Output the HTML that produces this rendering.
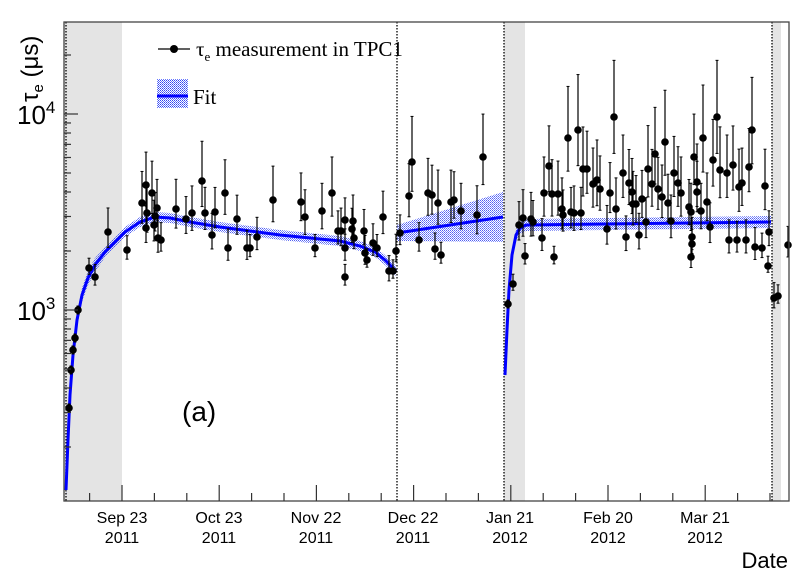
<!DOCTYPE html>
<html><head><meta charset="utf-8"><style>
body{margin:0;background:#fff;}
svg{display:block;}
</style></head><body>
<svg id="s" width="806" height="584" viewBox="0 0 806 584" xmlns="http://www.w3.org/2000/svg">
<defs>
<pattern id="hp" width="2" height="2" patternUnits="userSpaceOnUse">
<rect width="2" height="2" fill="#fff" fill-opacity="0"/>
<rect width="1" height="1" fill="#3344ee"/><rect x="1" y="1" width="1" height="1" fill="#6677ff"/>
</pattern>
</defs>
<rect x="64" y="22" width="58" height="479" fill="#e4e4e4"/>
<rect x="504" y="22" width="21" height="479" fill="#e4e4e4"/>
<rect x="772" y="22" width="9" height="479" fill="#e4e4e4"/>
<g stroke="#000" stroke-width="1.3" stroke-dasharray="1.5,1.5">
<line x1="66" y1="22" x2="66" y2="501"/>
<line x1="397" y1="22" x2="397" y2="501"/>
<line x1="504" y1="22" x2="504" y2="501"/>
<line x1="772" y1="22" x2="772" y2="501"/>
</g>
<g id="fit"></g>
<g id="pts"></g>
<rect x="64" y="22" width="725" height="479" fill="none" stroke="#444" stroke-width="1.3"/>
<g id="ax" stroke="#333" stroke-width="1.2"></g>
<g font-family="Liberation Sans, sans-serif" font-size="16" fill="#000" text-anchor="middle">
<text x="122" y="523">Sep 23</text><text x="122" y="543">2011</text>
<text x="219" y="523">Oct 23</text><text x="219" y="543">2011</text>
<text x="316" y="523">Nov 22</text><text x="316" y="543">2011</text>
<text x="413" y="523">Dec 22</text><text x="413" y="543">2011</text>
<text x="510" y="523">Jan 21</text><text x="510" y="543">2012</text>
<text x="608" y="523">Feb 20</text><text x="608" y="543">2012</text>
<text x="705" y="523">Mar 21</text><text x="705" y="543">2012</text>
</g>
<text x="788" y="568" font-family="Liberation Sans, sans-serif" font-size="22" text-anchor="end">Date</text>
<g font-family="Liberation Sans, sans-serif" font-size="26">
<text x="17" y="124">10<tspan font-size="17" dy="-11">4</tspan></text>
<text x="17" y="320">10<tspan font-size="17" dy="-11">3</tspan></text>
<text x="182" y="421" font-size="28">(a)</text>
</g>
<text transform="translate(38,102) rotate(-90)" font-family="Liberation Sans, sans-serif" font-size="24">τ<tspan font-size="15" dy="5">e</tspan><tspan dy="-5"> (μs)</tspan></text>
<g font-family="Liberation Serif, serif" font-size="21">
<line x1="158" y1="49" x2="190" y2="49" stroke="#000" stroke-width="1.3"/>
<circle cx="174" cy="49" r="4" fill="#000"/>
<text x="196" y="56">τ<tspan font-size="13" dy="5">e</tspan><tspan dy="-5"> measurement in TPC1</tspan></text>
<rect x="157" y="79" width="31" height="29" fill="url(#hp)"/>
<line x1="157" y1="96" x2="188" y2="96" stroke="#0000ff" stroke-width="3"/>
<text x="193" y="104">Fit</text>
</g>
</svg>
<script>
const NS="http://www.w3.org/2000/svg";
function el(p,t,a){const e=document.createElementNS(NS,t);for(const k in a)e.setAttribute(k,a[k]);p.appendChild(e);return e;}
const ax=document.getElementById('ax');
for(let i=-1;i<24;i++){const x=122+i*32.4;if(x<65||x>788)continue;const maj=(i%3===0);el(ax,'line',{x1:x,y1:501,x2:x,y2:501-(maj?16:8)});}
function Y(v){return 310-196*Math.log10(v/1000);}
[100,1000,10000].forEach(d=>{for(let m=1;m<10;m++){const v=d*m;const y=Y(v);if(y<22||y>501)continue;el(ax,'line',{x1:64,y1:y,x2:64+(m===1?14:7),y2:y});}});
const fit=document.getElementById('fit');
function band(pts,w){let up=pts.map((p,i)=>[p[0],p[1]-w(i,p)]);let dn=pts.map((p,i)=>[p[0],p[1]+w(i,p)]).reverse();
el(fit,'polygon',{points:up.concat(dn).map(p=>p.join(',')).join(' '),fill:'url(#hp)',opacity:'0.85'});
el(fit,'polyline',{points:pts.map(p=>p.join(',')).join(' '),fill:'none',stroke:'#0000ff','stroke-width':3});}
const s1=[[66,490],[68,440],[70,395],[73,355],[77,320],[82,295],[88,278],[95,265],[105,252],[115,242],[125,232],[140,222],[155,217],[170,218],[190,222],[220,227],[250,231],[280,235],[310,238],[340,241],[360,246],[375,252],[385,260],[392,267],[396,271]];
band(s1,(i,p)=>p[0]<100?7:5);
band([[397,233],[450,225],[503,217]],(i,p)=>8+(p[0]-397)*0.16);
const s3=[[505,375],[507,330],[509,290],[512,255],[516,235],[520,228],[526,225],[771,222]];
band(s3,(i,p)=>p[0]<515?2:6);
const P=[[69,408],[71,370],[73,350],[75,338],[78,310],[89,268],[95,277],[108,232],[127,250],[142,203],[146,185],[146,228],[147,213],[152,193],[154,225],[155,216],[157,208],[158,238],[161,240],[176,209],[186,219],[192,213],[202,181],[205,213],[212,235],[215,212],[225,193],[228,248],[237,219],[247,248],[250,248],[257,237],[273,200],[301,202],[305,217],[315,248],[322,211],[332,193],[338,231],[341,231],[345,220],[345,277],[345,248],[352,229],[353,221],[354,238],[364,231],[365,253],[367,260],[373,243],[377,248],[383,217],[389,271],[393,271],[396,251],
[400,233],[409,196],[412,162],[419,240],[428,193],[432,195],[435,249],[438,203],[441,255],[451,202],[454,200],[461,211],[477,215],[483,157],
[508,304],[513,284],[519,225],[523,218],[525,256],[531,219],[533,222],[542,238],[544,193],[549,166],[552,194],[554,257],[558,194],[562,209],[563,215],[568,138],[571,212],[574,213],[578,130],[581,213],[583,169],[587,169],[593,184],[597,180],[600,189],[607,229],[610,193],[614,117],[616,209],[623,173],[626,237],[629,183],[632,192],[633,204],[636,204],[639,235],[642,199],[646,222],[648,169],[652,184],[655,154],[658,189],[662,197],[665,142],[668,203],[671,221],[674,173],[678,183],[681,193],[689,207],[691,212],[692,244],[692,237],[691,257],[694,157],[697,182],[697,192],[701,211],[703,138],[707,202],[710,227],[713,160],[717,117],[720,170],[727,173],[729,240],[733,165],[737,240],[739,187],[742,183],[746,240],[749,167],[752,130],[755,247],[762,248],[765,186],[768,266],[769,232],[774,298],[778,296],[788,245]];
const pg=document.getElementById('pts');
P.forEach(([x,y],i)=>{let e=7+Math.max(0,260-y)*0.22+((i*7)%5);let up=e*1.4,dn=e*0.9;
if(y>300){up=4;dn=4;}
el(pg,'line',{x1:x,y1:y-up,x2:x,y2:y+dn,stroke:'#000','stroke-width':1.2});
el(pg,'line',{x1:x-1.5,y1:y-up,x2:x+1.5,y2:y-up,stroke:'#000','stroke-width':1});
el(pg,'line',{x1:x-1.5,y1:y+dn,x2:x+1.5,y2:y+dn,stroke:'#000','stroke-width':1});
el(pg,'circle',{cx:x,cy:y,r:3.8,fill:'#000'});});
</script>
</body></html>
